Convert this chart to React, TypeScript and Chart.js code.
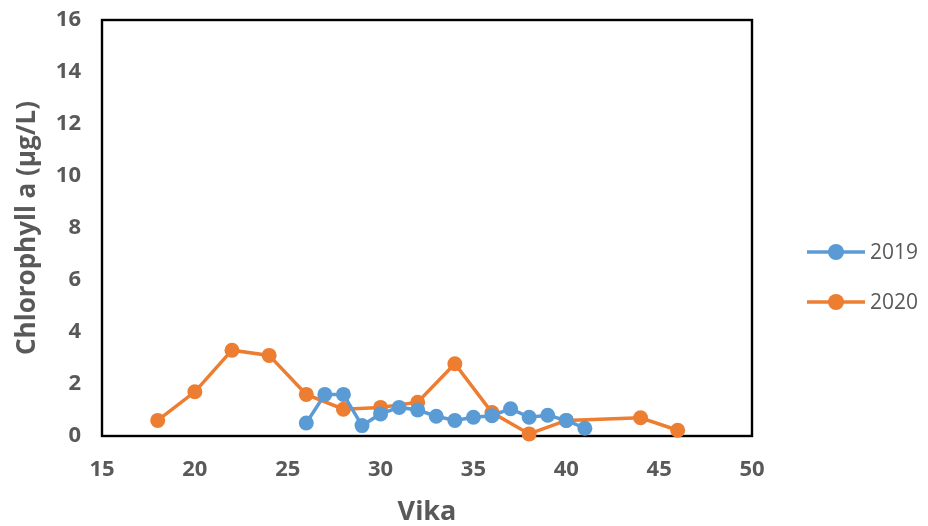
import React, { useEffect, useRef } from "react";
import { Chart, registerables } from "chart.js";

Chart.register(...registerables);

const weeks2019 = [26, 27, 28, 29, 30, 31, 32, 33, 34, 35, 36, 37, 38, 39, 40, 41];
const values2019 = [0.5, 1.6, 1.6, 0.4, 0.85, 1.1, 1.0, 0.76, 0.6, 0.72, 0.78, 1.05, 0.72, 0.8, 0.6, 0.3];
const weeks2020 = [18, 20, 22, 24, 26, 28, 30, 32, 34, 36, 38, 40, 44, 46];
const values2020 = [0.6, 1.7, 3.3, 3.1, 1.6, 1.03, 1.1, 1.3, 2.78, 0.9, 0.08, 0.6, 0.7, 0.22];
const seriesNames = ["2019", "2020"];
const seriesColors = ["#5B9BD5", "#ED7D31"];
const xTitle = "Vika";
const yTitle = "Chlorophyll a (µg/L)";

const FONT = "'Open Sans', 'Liberation Sans', sans-serif";
const GREY = "#595959";

export default function App() {
  const ref = useRef<HTMLCanvasElement | null>(null);
  useEffect(() => {
    if (!ref.current) return;
    const borderPlugin = {
      id: "plotBorder",
      beforeDatasetsDraw(chart: any) {
        const { ctx, chartArea } = chart;
        ctx.save();
        ctx.strokeStyle = "#000";
        ctx.lineWidth = 2.4;
        ctx.strokeRect(chartArea.left, chartArea.top, chartArea.right - chartArea.left, chartArea.bottom - chartArea.top);
        ctx.restore();
      },
    };
    const legendPlugin = {
      id: "customLegend",
      afterDraw(chart: any) {
        const { ctx } = chart;
        ctx.save();
        chart.data.datasets.forEach((ds: any, i: number) => {
          const y = 252 + i * 50;
          ctx.strokeStyle = ds.borderColor;
          ctx.lineWidth = 3.5;
          ctx.beginPath();
          ctx.moveTo(807, y);
          ctx.lineTo(865, y);
          ctx.stroke();
          ctx.fillStyle = ds.borderColor;
          ctx.beginPath();
          ctx.arc(836, y, 8, 0, Math.PI * 2);
          ctx.fill();
          ctx.fillStyle = GREY;
          ctx.font = `21px ${FONT}`;
          ctx.textBaseline = "middle";
          ctx.textAlign = "left";
          ctx.fillText(ds.label, 870, y + 1);
        });
        ctx.restore();
      },
    };
    const mkDs = (label: string, xs: number[], ys: number[], color: string) => ({
      label,
      data: xs.map((x, i) => ({ x, y: ys[i] })),
      borderColor: color,
      backgroundColor: color,
      borderWidth: 3.5,
      pointRadius: 7.5,
      pointHoverRadius: 7.5,
      pointBorderWidth: 0,
      clip: false as any,
    });
    const chart = new Chart(ref.current, {
      type: "line",
      data: {
        datasets: [
          mkDs(seriesNames[0], weeks2019, values2019, seriesColors[0]),
          mkDs(seriesNames[1], weeks2020, values2020, seriesColors[1]),
        ],
      },
      options: {
        responsive: false,
        animation: false,
        layout: { padding: { left: 0, right: 176, top: 20, bottom: 0 } },
        plugins: { legend: { display: false }, tooltip: { enabled: false } },
        scales: {
          x: {
            type: "linear",
            min: 15,
            max: 50,
            grid: { display: false, drawTicks: false },
            border: { display: false },
            ticks: {
              stepSize: 5,
              padding: 21,
              color: GREY,
              font: { family: FONT, size: 22, weight: "bold" },
            },
            title: {
              display: true,
              text: xTitle,
              color: GREY,
              font: { family: FONT, size: 27, weight: "bold", lineHeight: 1 },
              padding: { top: 6, bottom: 0 },
            },
            afterFit(scale: any) {
              scale.height = 90;
              scale.paddingLeft = 0;
              scale.paddingRight = 0;
            },
          },
          y: {
            min: 0,
            max: 16,
            grid: { display: false, drawTicks: false },
            border: { display: false },
            ticks: {
              stepSize: 2,
              padding: 21,
              color: GREY,
              font: { family: FONT, size: 22, weight: "bold" },
            },
            title: {
              display: true,
              text: yTitle,
              color: GREY,
              font: { family: FONT, size: 26, weight: "bold" },
              padding: { top: 12, bottom: 0 },
            },
            afterFit(scale: any) {
              scale.width = 102;
              scale.paddingTop = 0;
              scale.paddingBottom = 0;
            },
          },
        },
      },
      plugins: [borderPlugin, legendPlugin],
    });
    return () => chart.destroy();
  }, []);
  return (
    <div style={{ position: "fixed", left: 0, top: 0, width: 928, height: 526, background: "#fff" }}>
      <canvas ref={ref} width={928} height={526} />
    </div>
  );
}
